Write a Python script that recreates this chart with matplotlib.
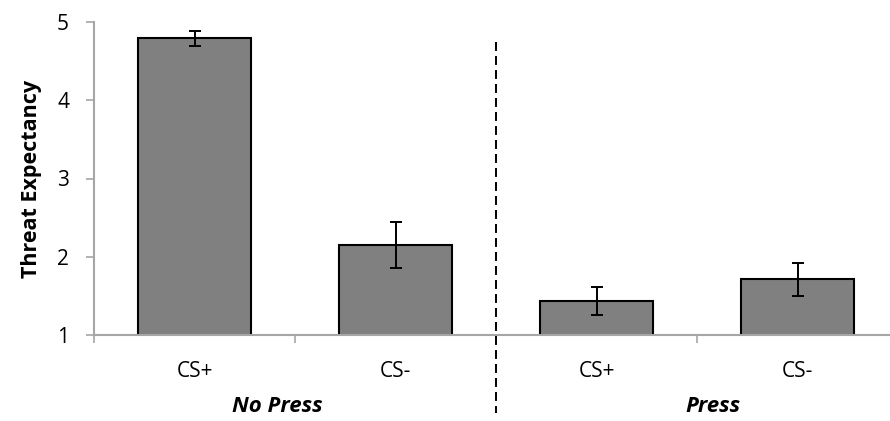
import numpy as np
import matplotlib.pyplot as plt

# data
conditions = ["CS+", "CS-", "CS+", "CS-"]
groups = ["No Press", "Press"]
group_pos = [0.41, 2.58]
means = [4.79, 2.15, 1.43, 1.71]
errors = [0.10, 0.29, 0.18, 0.21]

plt.rcParams['font.family'] = ['Open Sans', 'DejaVu Sans']

fig = plt.figure(figsize=(8.9, 4.21), dpi=100)
ax = fig.add_axes([94 / 890, 1 - 335 / 421, 1 - 94 / 890, (335 - 22) / 421])

x = np.arange(len(means))
ax.bar(x, means, width=0.565, bottom=0, color="#808080", edgecolor="black",
       linewidth=1.5, zorder=2)
ax.errorbar(x, means, yerr=errors, fmt="none", ecolor="black", elinewidth=1.4,
            capsize=4.3, capthick=1.4, zorder=3)

ax.set_ylim(1, 5)
ax.set_xlim(-0.5, 3.46)
ax.set_yticks([1, 2, 3, 4, 5])

ax.spines['top'].set_visible(False)
ax.spines['right'].set_visible(False)
for s in ['left', 'bottom']:
    ax.spines[s].set_color("#a6a6a6")
    ax.spines[s].set_linewidth(1.5)

ax.tick_params(axis='y', direction='out', length=6, width=1.2, color="#a6a6a6",
               labelsize=15, pad=12)
ax.set_xticks(x)
ax.set_xticklabels(conditions)
ax.tick_params(axis='x', which='major', length=0, labelsize=15, pad=19)
ax.set_xticks([-0.5, 0.5, 1.5, 2.5], minor=True)
ax.tick_params(axis='x', which='minor', direction='out', length=6, width=1.2,
               color="#a6a6a6")

ax.set_ylabel("Threat Expectancy", fontsize=15.5, fontweight='bold', labelpad=11)

# group labels
for gx, g in zip(group_pos, groups):
    ax.text(gx, 1 - (407 - 335) / 78.25, g, ha='center', va='center',
            fontsize=16, fontweight='bold', style='italic', clip_on=False)

# dashed divider between groups
ax.plot([1.5, 1.5], [4.75, 0.0], color="black", lw=1.4, dashes=(4.6, 2.6),
        clip_on=False, zorder=4)

fig.savefig("out.png", dpi=100)
